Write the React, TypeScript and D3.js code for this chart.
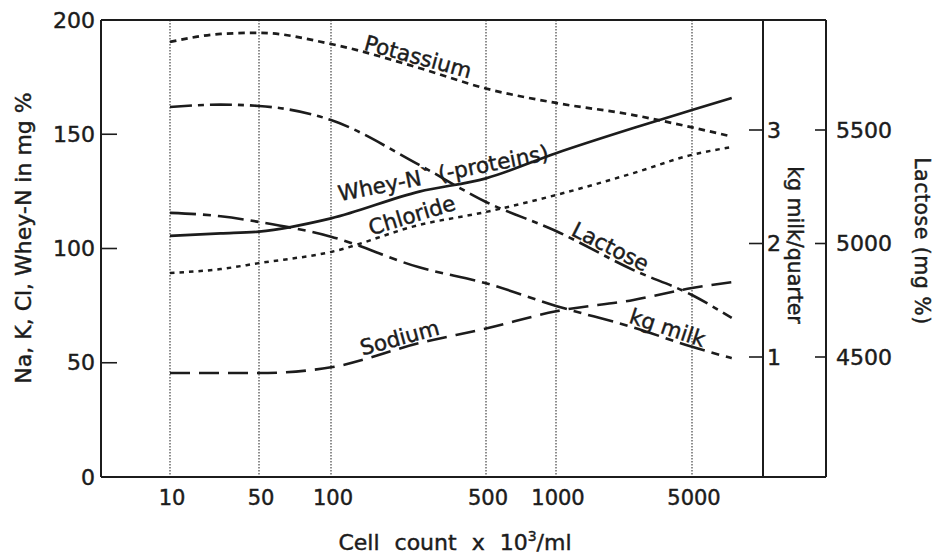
import React from 'react';
import * as d3 from 'd3';

// ---------- data ----------
const cellCounts = [10, 25, 50, 100, 250, 500, 1000, 2500, 5000, 8000];
const potassium = [190.4, 193.9, 194.4, 189.5, 179, 170, 163.7, 158.4, 153, 149];
const wheyN = [105.5, 106.6, 107.4, 113.2, 124.9, 130.7, 141.7, 152.7, 160.6, 165.9];
const chloride = [89.3, 91, 93.6, 98.5, 110.3, 116, 123.4, 133, 141, 144.4];
const sodium = [45.5, 45.5, 45.5, 48, 58.6, 65, 72.5, 77.5, 82.7, 85.3];
const lactose = [5601, 5612, 5606, 5544, 5346, 5183, 5055, 4883, 4773, 4672];
const kgMilk = [2.27, 2.24, 2.19, 2.06, 1.79, 1.65, 1.45, 1.26, 1.09, 0.99];

const xTicks = [10, 50, 100, 500, 1000, 5000];
const leftTicks = [0, 50, 100, 150, 200];
const kgTicks = [1, 2, 3];
const lactoseTicks = [4500, 5000, 5500];

const labelTexts = ['Potassium', 'Whey-N` (-proteins)', 'Chloride', 'Lactose', 'kg milk', 'Sodium'];
const labelAt = [240, 330, 240, 1800, 3600, 210];

// ---------- layout ----------
const W = 939;
const H = 556;
const LEFT = 101;
const TOP = 20;
const BOTTOM = 477;
const KG_X = 763;
const LAC_X = 826;
// the original (hand drawn) cell-count axis is not evenly logarithmic
const X_RANGE = [170, 259, 331, 486, 556, 692];

const FONT = '"DejaVu Sans", "Liberation Sans", Arial, sans-serif';
const INK = '#1c1c1c';
const TXT = { fill: INK, stroke: INK, strokeWidth: 0.45 };

export default function App() {
  const x = d3.scaleLog().domain(xTicks).range(X_RANGE);
  const y = d3.scaleLinear().domain([0, 200]).range([BOTTOM, TOP]);
  const yKg = d3.scaleLinear().domain([1, 3]).range([357, 130]);
  const yLac = d3.scaleLinear().domain([4500, 5500]).range([357, 130]);

  const series = [
    { key: 'potassium', values: potassium, scale: y, dash: '6.5,5', width: 2.7 },
    { key: 'wheyN', values: wheyN, scale: y, dash: null, width: 2.7 },
    { key: 'chloride', values: chloride, scale: y, dash: '4.5,5', width: 2.5 },
    { key: 'lactose', values: lactose, scale: yLac, dash: '22,6,6,6', width: 2.6 },
    { key: 'kgMilk', values: kgMilk, scale: yKg, dash: '26,7,8,7', width: 2.6 },
    { key: 'sodium', values: sodium, scale: y, dash: '20,9', width: 2.6 },
  ];

  const pts = series.map((s) => cellCounts.map((c, i) => [x(c), s.scale(s.values[i])] as [number, number]));
  const line = d3.line().curve(d3.curveMonotoneX);

  const labelOf = (si: number) => {
    const p = pts[si];
    const px = x(labelAt[si]);
    let j = 0;
    while (j < p.length - 2 && p[j + 1][0] < px) j++;
    const [x0, y0] = p[j];
    const [x1, y1] = p[j + 1];
    const t = (px - x0) / (x1 - x0);
    const py = y0 + t * (y1 - y0);
    const ang = (Math.atan2(y1 - y0, x1 - x0) * 180) / Math.PI;
    return { px, py, ang };
  };
  const labelDy = [-3, -6, -4, -3, -3, -3];
  const labelOrder = ['potassium', 'wheyN', 'chloride', 'lactose', 'kgMilk', 'sodium'];

  return (
    <svg
      width={W}
      height={H}
      style={{ position: 'absolute', left: 0, top: 0, background: '#fff' }}
      fontFamily={FONT}
    >
      <rect x={0} y={0} width={W} height={H} fill="#fff" />
      {/* vertical dotted grid */}
      {xTicks.map((v) => (
        <line
          key={'g' + v}
          x1={x(v)}
          x2={x(v)}
          y1={TOP}
          y2={BOTTOM}
          stroke="#444"
          strokeWidth={1.2}
          strokeDasharray="1.5,1.5"
        />
      ))}
      {/* frame */}
      <g stroke={INK} strokeWidth={2} fill="none">
        <line x1={LEFT} x2={LAC_X} y1={TOP} y2={TOP} />
        <line x1={LEFT} x2={LAC_X} y1={BOTTOM} y2={BOTTOM} />
        <line x1={LEFT} x2={LEFT} y1={TOP} y2={BOTTOM} />
        <line x1={KG_X} x2={KG_X} y1={TOP} y2={BOTTOM} />
        <line x1={LAC_X} x2={LAC_X} y1={TOP} y2={BOTTOM} />
      </g>
      {/* left axis */}
      {leftTicks.map((v) => (
        <g key={'l' + v}>
          <line x1={LEFT} x2={LEFT + 16} y1={y(v)} y2={y(v)} stroke={INK} strokeWidth={1.6} />
          <text x={95} y={y(v)} textAnchor="end" dominantBaseline="central" fontSize={22} {...TXT}>
            {v}
          </text>
        </g>
      ))}
      {/* kg axis */}
      {kgTicks.map((v) => (
        <g key={'k' + v}>
          <line x1={KG_X - 14} x2={KG_X} y1={yKg(v)} y2={yKg(v)} stroke={INK} strokeWidth={1.6} />
          <text x={KG_X + 4} y={yKg(v)} dominantBaseline="central" fontSize={22} {...TXT}>
            {v}
          </text>
        </g>
      ))}
      {/* lactose axis */}
      {lactoseTicks.map((v) => (
        <g key={'c' + v}>
          <line x1={LAC_X - 11} x2={LAC_X} y1={yLac(v)} y2={yLac(v)} stroke={INK} strokeWidth={1.6} />
          <text x={LAC_X + 10} y={yLac(v)} dominantBaseline="central" fontSize={22} {...TXT}>
            {v}
          </text>
        </g>
      ))}
      {/* x axis labels */}
      {xTicks.map((v) => (
        <text key={'x' + v} x={x(v) + 2} y={505} textAnchor="middle" fontSize={21} {...TXT}>
          {v}
        </text>
      ))}
      {/* series */}
      {series.map((s, i) => (
        <path
          key={s.key}
          d={line(pts[i]) || ''}
          fill="none"
          stroke={INK}
          strokeWidth={s.width}
          strokeDasharray={s.dash || undefined}
          strokeLinecap="butt"
        />
      ))}
      {/* series labels */}
      {labelOrder.map((k, i) => {
        const si = series.findIndex((s) => s.key === k);
        const { px, py, ang } = labelOf(si);
        return (
          <text
            key={'t' + k}
            transform={`translate(${px},${py}) rotate(${ang})`}
            y={labelDy[i]}
            textAnchor="middle"
            fontSize={21.5}
            {...TXT}
          >
            {labelTexts[i]}
          </text>
        );
      })}
      {/* axis titles */}
      <text transform={`translate(31,${238}) rotate(-90)`} textAnchor="middle" fontSize={22} {...TXT}>
        Na, K, Cl, Whey-N in mg %
      </text>
      <text transform={`translate(788,${245}) rotate(90)`} textAnchor="middle" fontSize={20.5} {...TXT}>
        kg milk/quarter
      </text>
      <text
        transform={`translate(915,${241}) rotate(90)`}
        textAnchor="middle"
        fontSize={20.5}
        letterSpacing={0.5}
        {...TXT}
      >
        Lactose (mg %)
      </text>
      <text x={455} y={550} textAnchor="middle" fontSize={22} wordSpacing={8} {...TXT}>
        Cell count x 10
        <tspan dy={-9} fontSize={14}>3</tspan>
        <tspan dy={9}>/ml</tspan>
      </text>
    </svg>
  );
}
